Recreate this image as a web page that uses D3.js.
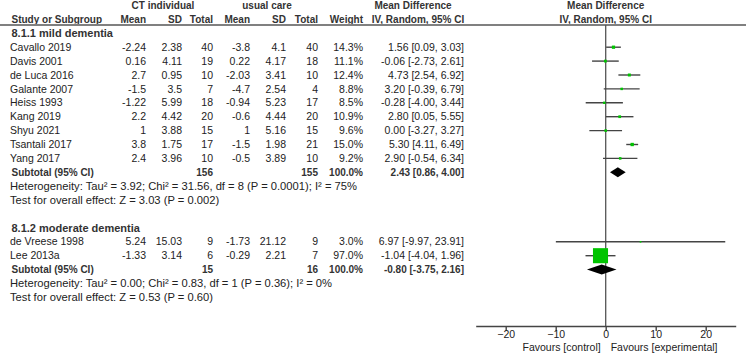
<!DOCTYPE html>
<html>
<head>
<meta charset="utf-8">
<script src="https://cdn.jsdelivr.net/npm/d3@7"></script>
<style>
  html, body { margin: 0; padding: 0; background: #fff; }
  svg { display: block; font-family: "Liberation Sans", Arial, sans-serif; }
</style>
</head>
<body>
<svg id="chart" width="746" height="354"></svg>
<script>
// ---------- data ----------
const studies = ["Cavallo 2019","Davis 2001","de Luca 2016","Galante 2007","Heiss 1993","Kang 2019","Shyu 2021","Tsantali 2017","Yang 2017","de Vreese 1998","Lee 2013a"];
const subgroupOf = [0,0,0,0,0,0,0,0,0,1,1];
const ctMean  = [-2.24, 0.16, 2.7, -1.5, -1.22, 2.2, 1, 3.8, 2.4, 5.24, -1.33];
const ctSD    = [2.38, 4.11, 0.95, 3.5, 5.99, 4.42, 3.88, 1.75, 3.96, 15.03, 3.14];
const ctTotal = [40, 19, 10, 7, 18, 20, 15, 17, 10, 9, 6];
const ucMean  = [-3.8, 0.22, -2.03, -4.7, -0.94, -0.6, 1, -1.5, -0.5, -1.73, -0.29];
const ucSD    = [4.1, 4.17, 3.41, 2.54, 5.23, 4.44, 5.16, 1.98, 3.89, 21.12, 2.21];
const ucTotal = [40, 18, 10, 4, 17, 20, 15, 21, 10, 9, 7];
const weights = [14.3, 11.1, 12.4, 8.8, 8.5, 10.9, 9.6, 15.0, 9.2, 3.0, 97.0];
const meanDiff = [1.56, -0.06, 4.73, 3.20, -0.28, 2.80, 0.00, 5.30, 2.90, 6.97, -1.04];
const ciLow  = [0.09, -2.73, 2.54, -0.39, -4.00, 0.05, -3.27, 4.11, -0.54, -9.97, -4.04];
const ciHigh = [3.03, 2.61, 6.92, 6.79, 3.44, 5.55, 3.27, 6.49, 6.34, 23.91, 1.96];

const subgroupLabels = ["8.1.1 mild dementia", "8.1.2 moderate dementia"];
const subCtTotal = [156, 15];
const subUcTotal = [155, 16];
const subWeight = [100.0, 100.0];
const subMD = [2.43, -0.80];
const subLow = [0.86, -3.75];
const subHigh = [4.00, 2.16];
const heterogeneityText = [
  "Heterogeneity: Tau\u00b2 = 3.92; Chi\u00b2 = 31.56, df = 8 (P = 0.0001); I\u00b2 = 75%",
  "Heterogeneity: Tau\u00b2 = 0.00; Chi\u00b2 = 0.83, df = 1 (P = 0.36); I\u00b2 = 0%"
];
const overallEffectText = [
  "Test for overall effect: Z = 3.03 (P = 0.002)",
  "Test for overall effect: Z = 0.53 (P = 0.60)"
];
const xTicks = [-20, -10, 0, 10, 20];
const favourLabels = ["Favours [control]", "Favours [experimental]"];

// ---------- layout ----------
const svg = d3.select("#chart");
const FS = 10.5;
const FS_BOLD = 10;
const textCol = "#222";
const boldCol = "#333";

const x = d3.scaleLinear().domain([-26, 26]).range([475.7, 735.7]);
const rowY = d3.scaleLinear().domain([0, 1]).range([5.5, 19.4]);
const boxSize = d3.scaleLinear().domain([0, 100]).range([1.2, 15.5]);
const axisY = 326;

// column right edges
const col = { study: 10, m1: 146, sd1: 182, n1: 213, m2: 250, sd2: 286, n2: 318, w: 363, md: 464 };

function txt(xp, yp, s, opt = {}) {
  return svg.append("text")
    .attr("x", xp).attr("y", yp).attr("dy", "0.35em")
    .attr("font-size", opt.size || (opt.bold ? FS_BOLD : FS))
    .attr("font-weight", opt.bold ? "bold" : "normal")
    .attr("fill", opt.bold ? boldCol : textCol)
    .attr("text-anchor", opt.anchor || "start")
    .text(s);
}

const f2 = d => d.toFixed(2);

// headers
txt(163, rowY(0), "CT individual", { bold: true, anchor: "middle" });
txt(267, rowY(0), "usual care", { bold: true, anchor: "middle" });
txt(413, rowY(0), "Mean Difference", { bold: true, anchor: "middle" });
txt(605.7, rowY(0), "Mean Difference", { bold: true, anchor: "middle" });
txt(11.5, rowY(1), "Study or Subgroup", { bold: true });
[["Mean", col.m1], ["SD", col.sd1], ["Total", col.n1], ["Mean", col.m2], ["SD", col.sd2], ["Total", col.n2], ["Weight", col.w]]
  .forEach(([s, c]) => txt(c, rowY(1), s, { bold: true, anchor: "end" }));
txt(418, rowY(1), "IV, Random, 95% CI", { bold: true, anchor: "middle" });
txt(605.7, rowY(1), "IV, Random, 95% CI", { bold: true, anchor: "middle" });

svg.append("line").attr("x1", 0).attr("x2", 746).attr("y1", 25).attr("y2", 25)
  .attr("stroke", "#808080").attr("stroke-width", 1.8);

// zero line
svg.append("line").attr("x1", x(0)).attr("x2", x(0)).attr("y1", 25).attr("y2", axisY)
  .attr("stroke", "#555").attr("stroke-width", 1.3);

// build rows
let r = 2;
subgroupLabels.forEach((lab, g) => {
  txt(11.5, rowY(r), lab, { bold: true, size: 11 });
  r++;
  studies.forEach((s, i) => {
    if (subgroupOf[i] !== g) return;
    const y = rowY(r);
    txt(col.study, y, s);
    txt(col.m1, y, String(ctMean[i]), { anchor: "end" });
    txt(col.sd1, y, String(ctSD[i]), { anchor: "end" });
    txt(col.n1, y, String(ctTotal[i]), { anchor: "end" });
    txt(col.m2, y, String(ucMean[i]), { anchor: "end" });
    txt(col.sd2, y, String(ucSD[i]), { anchor: "end" });
    txt(col.n2, y, String(ucTotal[i]), { anchor: "end" });
    txt(col.w, y, weights[i].toFixed(1) + "%", { anchor: "end" });
    txt(col.md, y, `${f2(meanDiff[i])} [${f2(ciLow[i])}, ${f2(ciHigh[i])}]`, { anchor: "end" });
    svg.append("line").attr("x1", x(ciLow[i])).attr("x2", x(ciHigh[i]))
      .attr("y1", y).attr("y2", y).attr("stroke", "#444").attr("stroke-width", 1.4);
    const b = boxSize(weights[i]);
    svg.append("rect").attr("x", x(meanDiff[i]) - b / 2).attr("y", y - b / 2)
      .attr("width", b).attr("height", b).attr("fill", "#00c400");
    r++;
  });
  const ys = rowY(r);
  txt(11.5, ys, "Subtotal (95% CI)", { bold: true });
  txt(col.n1, ys, String(subCtTotal[g]), { bold: true, anchor: "end" });
  txt(col.n2, ys, String(subUcTotal[g]), { bold: true, anchor: "end" });
  txt(col.w, ys, subWeight[g].toFixed(1) + "%", { bold: true, anchor: "end" });
  txt(col.md, ys, `${f2(subMD[g])} [${f2(subLow[g])}, ${f2(subHigh[g])}]`, { bold: true, anchor: "end" });
  const h = 5;
  svg.append("path")
    .attr("d", `M${x(subLow[g])},${ys} L${x(subMD[g])},${ys - h} L${x(subHigh[g])},${ys} L${x(subMD[g])},${ys + h} Z`)
    .attr("fill", "#000");
  r++;
  txt(col.study, rowY(r), heterogeneityText[g], { size: 11.2 }); r++;
  txt(col.study, rowY(r), overallEffectText[g], { size: 11.2 }); r++;
  r++;
});

// axis
const axis = d3.axisBottom(x).tickValues(xTicks).tickSize(5).tickSizeOuter(0).tickFormat(d3.format("d"));
const ag = svg.append("g").attr("transform", `translate(0,${axisY})`).call(axis);
ag.select(".domain").attr("stroke", "#444").attr("stroke-width", 1.4);
ag.selectAll(".tick line").attr("stroke", "#444").attr("stroke-width", 1.4);
ag.selectAll(".tick text").attr("font-size", FS).attr("fill", textCol)
  .attr("font-family", "Liberation Sans, Arial, sans-serif").attr("y", 5).attr("dy", "0.71em");

svg.append("text").attr("x", x(0) - 5).attr("y", 351).attr("text-anchor", "end")
  .attr("font-size", FS).attr("fill", textCol).text(favourLabels[0]);
svg.append("text").attr("x", x(0) + 5).attr("y", 351).attr("text-anchor", "start")
  .attr("font-size", FS).attr("fill", textCol).text(favourLabels[1]);
</script>
</body>
</html>
